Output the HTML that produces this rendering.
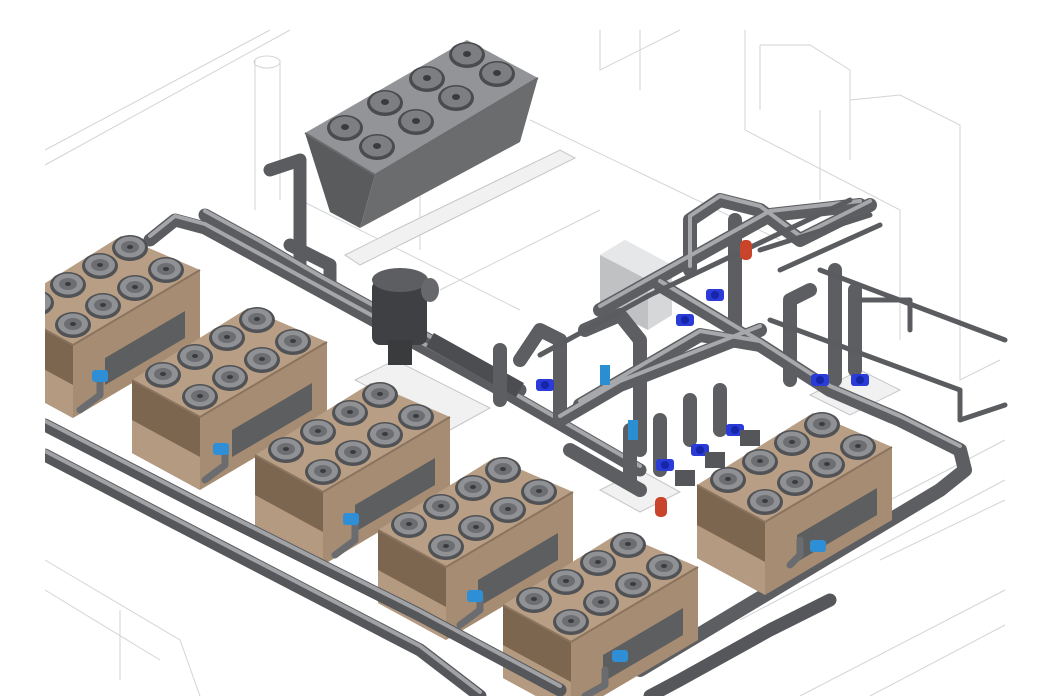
<!DOCTYPE html>
<html><head><meta charset="utf-8"><style>
html,body{margin:0;padding:0;background:#fff;}
svg{display:block;}
</style></head><body>
<svg width="1063" height="696" viewBox="0 0 1063 696" xmlns="http://www.w3.org/2000/svg">
<defs>
<g id="fan">
<ellipse cx="0" cy="0" rx="18" ry="13" fill="#505255"/>
<ellipse cx="0" cy="-1" rx="15" ry="10.5" fill="#8f9194"/>
<ellipse cx="0" cy="-1" rx="9" ry="6" fill="#6c6e72"/>
<ellipse cx="0" cy="-1" rx="3" ry="2" fill="#3a3b3d"/>
</g>
<g id="unit">
<polygon points="0,0 68,37 68,110 0,73" fill="#7d6650"/>
<polygon points="0,40 68,77 68,110 0,73" fill="#b49a80"/>
<polygon points="68,37 195,-38 195,35 68,110" fill="#a68c72"/>
<polygon points="100,50 180,3 180,30 100,77" fill="#5d5e60"/>
<polygon points="0,0 116,-72 195,-38 68,37" fill="#b79e84"/>
<polyline points="0,0 68,37 195,-38" fill="none" stroke="#8a7460" stroke-width="2"/>
<use href="#fan" x="31" y="-5"/><use href="#fan" x="63" y="-23"/><use href="#fan" x="95" y="-42"/><use href="#fan" x="125" y="-60"/>
<use href="#fan" x="68" y="17"/><use href="#fan" x="98" y="-2"/><use href="#fan" x="130" y="-20"/><use href="#fan" x="161" y="-38"/>
</g>
<g id="gfan">
<ellipse cx="0" cy="0" rx="18" ry="13" fill="#4a4b4d"/>
<ellipse cx="0" cy="-1" rx="15" ry="10.5" fill="#7c7e81"/>
<ellipse cx="0" cy="-1" rx="4" ry="3" fill="#3a3b3d"/>
</g>
<g id="pump">
<rect x="-9" y="-6" width="18" height="12" rx="3" fill="#2a3bd8"/>
<circle cx="0" cy="0" r="4" fill="#1626a8"/>
</g>
</defs>

<g stroke="#d2d4d6" stroke-width="1" fill="none">
<polyline points="45,150 270,30"/><polyline points="45,165 290,30"/>
<polyline points="600,30 600,70 680,30"/><polyline points="640,30 640,90"/>
<polyline points="745,30 745,130 900,210 900,340"/>
<polyline points="760,45 810,45 850,70 850,160"/><polyline points="760,45 760,110"/>
<polyline points="850,100 900,95 960,125 960,380 1000,360"/><polyline points="820,110 820,200"/>
<polyline points="255,60 255,210"/><polyline points="280,60 280,200"/><ellipse cx="267" cy="62" rx="13" ry="6"/>
<polyline points="530,120 780,240"/><polyline points="440,290 600,210"/>
<polyline points="45,560 180,640 200,696"/><polyline points="45,590 160,660"/><polyline points="120,610 120,680"/>
<polyline points="890,500 1005,440"/><polyline points="880,560 1005,500"/><polyline points="740,620 1005,480"/>
<polyline points="800,696 1005,590"/><polyline points="870,696 1005,625"/>
<polyline points="300,200 520,310"/><polyline points="420,140 420,250"/>
</g>
<g fill="#f1f1f1" stroke="#c4c6c8" stroke-width="1">
<polygon points="345,255 395,230 560,150 575,158 410,240 360,265"/>
<polygon points="355,380 395,360 490,408 450,430"/>
<polygon points="600,490 640,470 680,492 640,512"/>
<polygon points="810,395 860,370 900,390 850,415"/>
</g>

<polygon points="305,133 375,175 360,228 330,212" fill="#5a5b5d"/>
<polygon points="375,175 538,78 520,142 360,228" fill="#6b6c6e"/>
<polygon points="305,133 467,40 538,78 375,175" fill="#939497"/>
<polyline points="305,133 375,175 538,78" fill="none" stroke="#6a6b6d" stroke-width="2"/>
<use href="#gfan" x="345" y="128"/><use href="#gfan" x="385" y="103"/><use href="#gfan" x="427" y="79"/><use href="#gfan" x="467" y="55"/>
<use href="#gfan" x="377" y="147"/><use href="#gfan" x="416" y="122"/><use href="#gfan" x="456" y="98"/><use href="#gfan" x="497" y="74"/>

<g fill="none" stroke-linecap="round" stroke-linejoin="round">
<g stroke="#5a5c5f" stroke-width="13">
<polyline points="150,240 175,220 205,228 510,395 640,470"/>
<polyline points="270,170 300,160 300,270"/>
<polyline points="290,245 330,265 330,290"/>
<polyline points="205,215 260,245 320,280 520,390"/>
</g>
<g stroke="#a4a6a9" stroke-width="4">
<polyline points="150,236 175,216 205,224 510,391 640,466"/>
<polyline points="205,211 260,241 320,276 520,386"/>
</g>
</g>
<rect x="372" y="280" width="55" height="65" rx="8" fill="#3f4043"/>
<ellipse cx="400" cy="280" rx="28" ry="12" fill="#5c5e61"/>
<rect x="388" y="340" width="24" height="25" fill="#3a3b3d"/>
<ellipse cx="430" cy="290" rx="9" ry="12" fill="#66686b"/>
<polyline points="430,340 520,390" fill="none" stroke="#4b4d50" stroke-width="16"/>

<polygon points="600,255 625,240 672,265 672,315 648,330 600,305" fill="#d6d7d9"/>
<polygon points="600,255 625,240 672,265 648,280" fill="#e6e7e8"/>
<polygon points="600,255 648,280 648,330 600,305" fill="#bfc1c3"/>

<g fill="none" stroke-linecap="round" stroke-linejoin="round">
<g stroke="#5c5e61" stroke-width="14">
<polyline points="690,270 690,220 720,200 760,210 800,240 870,205"/>
<polyline points="735,220 735,330"/>
<polyline points="660,285 760,345 830,390 900,420 960,450 965,470 940,490 640,670"/>
<polyline points="520,360 540,330 560,340 560,420"/>
<polyline points="600,310 770,215 860,205"/>
<polyline points="580,405 700,335 760,345"/>
<polyline points="560,420 620,385 760,330"/>
<polyline points="585,330 620,315 640,340 640,450"/>
<polyline points="630,430 630,480"/>
<polyline points="660,420 660,470"/>
<polyline points="690,400 690,440"/>
<polyline points="720,390 720,430"/>
<polyline points="790,380 790,300 810,290"/>
<polyline points="835,380 835,270"/>
<polyline points="855,370 855,290"/>
<polyline points="570,450 640,490"/>
<polyline points="500,350 500,400"/>
</g>
<g stroke="#a6a8ab" stroke-width="4">
<polyline points="690,266 690,216 720,196 760,206 800,236 870,201"/>
<polyline points="660,281 760,341 830,386 900,416 960,446"/>
<polyline points="600,306 770,211 860,201"/>
<polyline points="580,401 700,331 760,341"/>
<polyline points="560,416 620,381 760,326"/>
</g>
<g stroke="#5a5c5f" stroke-width="5">
<polyline points="540,355 650,295 850,200"/>
<polyline points="760,250 870,215"/>
<polyline points="780,270 880,225"/>
<polyline points="820,270 1005,340"/>
<polyline points="860,300 910,300 910,330"/>
<polyline points="770,320 960,390 960,420 1005,405"/>
</g>
</g>
<rect x="740" y="240" width="12" height="20" rx="5" fill="#c8442a"/>
<rect x="655" y="497" width="12" height="20" rx="5" fill="#c8442a"/>
<use href="#pump" x="545" y="385"/><use href="#pump" x="715" y="295"/><use href="#pump" x="685" y="320"/>
<use href="#pump" x="665" y="465"/><use href="#pump" x="700" y="450"/><use href="#pump" x="735" y="430"/>
<use href="#pump" x="860" y="380"/><use href="#pump" x="820" y="380"/>
<rect x="675" y="470" width="20" height="16" fill="#55565a"/><rect x="705" y="452" width="20" height="16" fill="#55565a"/><rect x="740" y="430" width="20" height="16" fill="#55565a"/>
<rect x="600" y="365" width="10" height="20" fill="#2a8fd0"/><rect x="628" y="420" width="10" height="20" fill="#2a8fd0"/>

<use href="#unit" x="5" y="308"/>
<use href="#unit" x="132" y="380"/>
<use href="#unit" x="255" y="455"/>
<use href="#unit" x="378" y="530"/>
<use href="#unit" x="503" y="605"/>
<use href="#unit" x="697" y="485"/>

<g fill="none" stroke-linecap="round" stroke-linejoin="round">
<g stroke="#55575a" stroke-width="13">
<polyline points="45,425 200,505 420,615 560,690"/>
<polyline points="45,455 160,515 420,650 480,696"/>
<polyline points="830,600 770,630 680,680 650,696"/>
</g>
<g stroke="#a0a2a5" stroke-width="4">
<polyline points="45,421 200,501 420,611 560,686"/>
<polyline points="45,451 160,511 420,646 480,692"/>
</g>
<g stroke="#6a6c6f" stroke-width="7">
<polyline points="100,380 100,395 80,410"/>
<polyline points="225,450 225,465 205,480"/>
<polyline points="355,520 355,540 335,555"/>
<polyline points="480,595 480,610 460,625"/>
<polyline points="605,670 605,685 585,696"/>
<polyline points="800,540 800,555 790,565"/>
</g>
</g>
<g fill="#2e8fd6">
<rect x="92" y="370" width="16" height="12" rx="3"/>
<rect x="213" y="443" width="16" height="12" rx="3"/>
<rect x="343" y="513" width="16" height="12" rx="3"/>
<rect x="467" y="590" width="16" height="12" rx="3"/>
<rect x="612" y="650" width="16" height="12" rx="3"/>
<rect x="810" y="540" width="16" height="12" rx="3"/>
</g>
<rect x="0" y="0" width="45" height="696" fill="#fff"/>
</svg>
</body></html>
